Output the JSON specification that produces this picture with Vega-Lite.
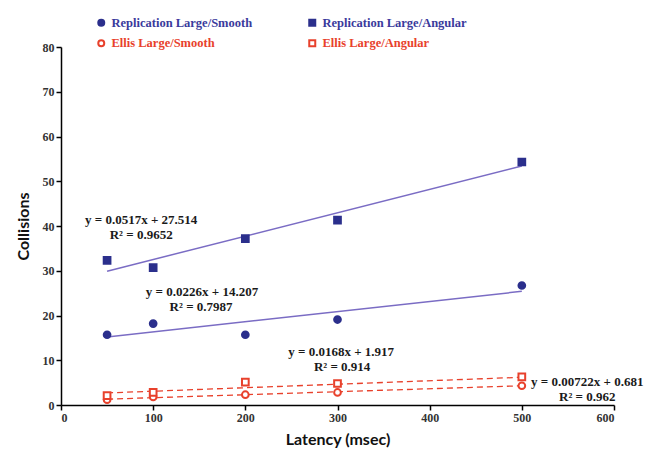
{
  "$schema": "https://vega.github.io/schema/vega-lite/v6.json",
  "width": 553,
  "height": 358,
  "autosize": {"type": "none"},
  "padding": {"left": 61, "top": 47, "right": 37, "bottom": 57},
  "background": "white",
  "config": {
    "view": {"stroke": null},
    "axis": {
      "grid": false,
      "domainColor": "#000000",
      "domainWidth": 1.5,
      "tickColor": "#000000",
      "tickWidth": 1.5,
      "tickSize": 5,
      "labelFont": "Liberation Serif",
      "labelFontWeight": "bold",
      "labelFontSize": 12,
      "labelColor": "#333333",
      "titleFont": "Lato",
      "titleFontWeight": "bold",
      "titleFontSize": 16,
      "titleColor": "#111111"
    },
    "legend": {
      "orient": "none",
      "legendX": 34,
      "legendY": -31,
      "columns": 2,
      "direction": "horizontal",
      "columnPadding": 52,
      "rowPadding": 6,
      "labelFont": "Liberation Serif",
      "labelFontWeight": "bold",
      "labelFontSize": 12.5,
      "symbolSize": 36,
      "symbolStrokeWidth": 2,
      "symbolOffset": 0,
      "labelOffset": 4
    }
  },
  "layer": [
    {
      "data": {"values": [
        {"series": "Replication Large/Angular", "latency": 50, "collisions": 29.9},
        {"series": "Replication Large/Angular", "latency": 500, "collisions": 53.4},
        {"series": "Replication Large/Smooth", "latency": 50, "collisions": 15.2},
        {"series": "Replication Large/Smooth", "latency": 500, "collisions": 25.4}
      ]},
      "mark": {"type": "line", "color": "#7a6cc4", "strokeWidth": 1.5},
      "encoding": {
        "x": {"field": "latency", "type": "quantitative"},
        "y": {"field": "collisions", "type": "quantitative"},
        "detail": {"field": "series"}
      }
    },
    {
      "data": {"values": [
        {"series": "Ellis Large/Angular", "latency": 50, "collisions": 2.7},
        {"series": "Ellis Large/Angular", "latency": 500, "collisions": 6.2},
        {"series": "Ellis Large/Smooth", "latency": 50, "collisions": 1.3},
        {"series": "Ellis Large/Smooth", "latency": 500, "collisions": 4.3}
      ]},
      "mark": {"type": "line", "color": "#e8412c", "strokeWidth": 1.3, "strokeDash": [6, 4]},
      "encoding": {
        "x": {"field": "latency", "type": "quantitative"},
        "y": {"field": "collisions", "type": "quantitative"},
        "detail": {"field": "series"}
      }
    },
    {
      "data": {"values": [
        {"series": "Replication Large/Smooth", "latency": 50, "collisions": 15.7},
        {"series": "Replication Large/Smooth", "latency": 100, "collisions": 18.2},
        {"series": "Replication Large/Smooth", "latency": 200, "collisions": 15.7},
        {"series": "Replication Large/Smooth", "latency": 300, "collisions": 19.1},
        {"series": "Replication Large/Smooth", "latency": 500, "collisions": 26.7},
        {"series": "Replication Large/Angular", "latency": 50, "collisions": 32.3},
        {"series": "Replication Large/Angular", "latency": 100, "collisions": 30.7},
        {"series": "Replication Large/Angular", "latency": 200, "collisions": 37.2},
        {"series": "Replication Large/Angular", "latency": 300, "collisions": 41.3},
        {"series": "Replication Large/Angular", "latency": 500, "collisions": 54.3},
        {"series": "Ellis Large/Smooth", "latency": 50, "collisions": 1.2},
        {"series": "Ellis Large/Smooth", "latency": 100, "collisions": 1.8},
        {"series": "Ellis Large/Smooth", "latency": 200, "collisions": 2.3},
        {"series": "Ellis Large/Smooth", "latency": 300, "collisions": 2.8},
        {"series": "Ellis Large/Smooth", "latency": 500, "collisions": 4.3},
        {"series": "Ellis Large/Angular", "latency": 50, "collisions": 2.1},
        {"series": "Ellis Large/Angular", "latency": 100, "collisions": 2.8},
        {"series": "Ellis Large/Angular", "latency": 200, "collisions": 5.1},
        {"series": "Ellis Large/Angular", "latency": 300, "collisions": 4.8},
        {"series": "Ellis Large/Angular", "latency": 500, "collisions": 6.3}
      ]},
      "mark": {"type": "point", "filled": false, "size": 45, "strokeWidth": 2, "opacity": 1},
      "encoding": {
        "x": {
          "field": "latency", "type": "quantitative",
          "scale": {"domain": [0, 600], "nice": false},
          "axis": {"values": [0, 100, 200, 300, 400, 500, 600], "title": "Latency (msec)", "titlePadding": 8}
        },
        "y": {
          "field": "collisions", "type": "quantitative",
          "scale": {"domain": [0, 80], "nice": false},
          "axis": {"values": [0, 10, 20, 30, 40, 50, 60, 70, 80], "title": "Collisions", "titlePadding": 11}
        },
        "shape": {
          "field": "series", "type": "nominal",
          "scale": {"domain": ["Replication Large/Smooth", "Replication Large/Angular", "Ellis Large/Smooth", "Ellis Large/Angular"], "range": ["circle", "square", "circle", "square"]},
          "legend": {"title": null, "labelColor": {"expr": "indexof(datum.label, 'Ellis') === 0 ? '#e8412c' : '#3a3a9c'"}}
        },
        "color": {
          "field": "series", "type": "nominal",
          "scale": {"domain": ["Replication Large/Smooth", "Replication Large/Angular", "Ellis Large/Smooth", "Ellis Large/Angular"], "range": ["#2b2f8c", "#2b2f8c", "#e8412c", "#e8412c"]},
          "legend": {"title": null, "labelColor": {"expr": "indexof(datum.label, 'Ellis') === 0 ? '#e8412c' : '#3a3a9c'"}}
        },
        "fill": {
          "field": "series", "type": "nominal",
          "scale": {"domain": ["Replication Large/Smooth", "Replication Large/Angular", "Ellis Large/Smooth", "Ellis Large/Angular"], "range": ["#2b2f8c", "#2b2f8c", "#ffffff", "#ffffff"]},
          "legend": {"title": null, "labelColor": {"expr": "indexof(datum.label, 'Ellis') === 0 ? '#e8412c' : '#3a3a9c'"}}
        }
      }
    },
    {
      "data": {"values": [
        {"text": "y = 0.0517x + 27.514", "latency": 87, "collisions": 41.3},
        {"text": "R² = 0.9652", "latency": 87, "collisions": 38.0},
        {"text": "y = 0.0226x + 14.207", "latency": 153, "collisions": 25.3},
        {"text": "R² = 0.7987", "latency": 152, "collisions": 21.9},
        {"text": "y = 0.0168x + 1.917", "latency": 304, "collisions": 11.8},
        {"text": "R² = 0.914", "latency": 305, "collisions": 8.5},
        {"text": "y = 0.00722x + 0.681", "latency": 571, "collisions": 5.1},
        {"text": "R² = 0.962", "latency": 571, "collisions": 1.8}
      ]},
      "mark": {"type": "text", "font": "Liberation Serif", "fontWeight": "bold", "fontSize": 13, "color": "#1a1a1a", "baseline": "middle", "align": "center"},
      "encoding": {
        "x": {"field": "latency", "type": "quantitative"},
        "y": {"field": "collisions", "type": "quantitative"},
        "text": {"field": "text"}
      }
    }
  ]
}
